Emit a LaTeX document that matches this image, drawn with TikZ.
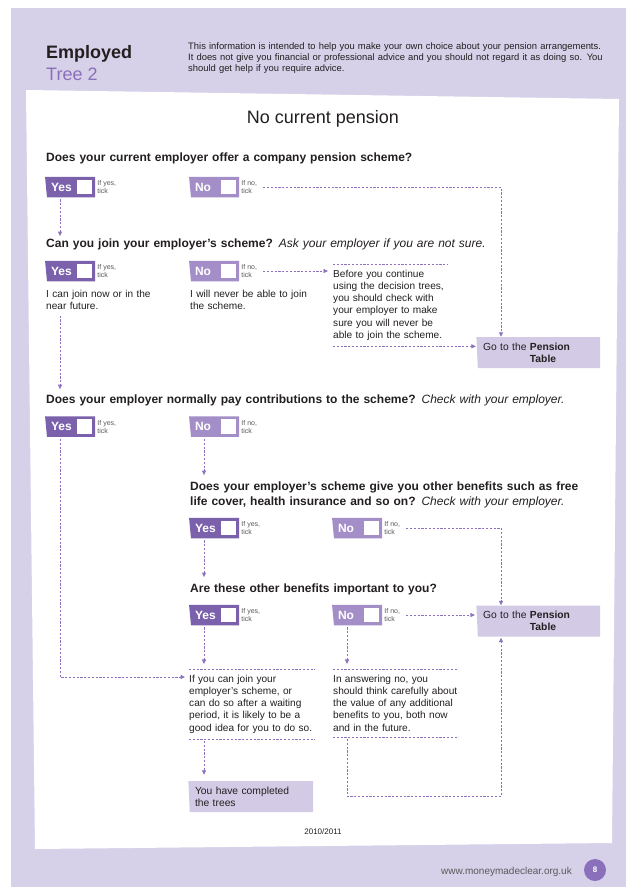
\documentclass[tikz,border=0pt]{standalone}
\usepackage{fontspec}
\setmainfont{Liberation Sans}
\usetikzlibrary{shapes.geometric, arrows.meta, positioning, calc}
\definecolor{page}{HTML}{D6D1E8}
\definecolor{yescol}{HTML}{7B61AC}
\definecolor{nocol}{HTML}{A48EC8}
\definecolor{flowcol}{HTML}{8B71BE}
\definecolor{gotocol}{HTML}{D3CBE6}
\definecolor{treecol}{HTML}{8A6FBB}
\definecolor{ink}{HTML}{231F20}
\definecolor{softink}{HTML}{58595B}
\newcommand{\sz}[2]{\fontsize{#1}{#2}\selectfont}

\begin{document}
\begin{tikzpicture}[x=1pt, y=-1pt,
    question/.style={anchor=base west, inner sep=0pt, text width=#1, align=left, font=\sz{12}{15}\bfseries, text=ink},
    question/.default=540pt,
    answer/.style={trapezium, trapezium left angle=97, trapezium right angle=90, trapezium stretches=true,
        minimum width=50pt, minimum height=20.5pt, inner xsep=3pt, text width=40pt, align=left,
        text=white, font=\sz{12}{14}\bfseries},
    tickbox/.style={fill=white, minimum size=14.5pt, inner sep=0pt},
    hint/.style={anchor=west, inner sep=0pt, align=left, font=\sz{7}{8}, text=softink},
    body/.style={anchor=base west, inner sep=0pt, text width=#1, align=left, font=\sz{10.1}{12.3}, text=ink},
    info/.style={body=#1, inner ysep=5.5pt},
    gotobox/.style={trapezium, trapezium left angle=93, trapezium right angle=90, trapezium stretches=true,
        fill=gotocol, minimum width=124pt, minimum height=31pt, inner xsep=3pt, text width=112pt,
        align=left, font=\sz{10.3}{12}, text=ink},
    rule/.style={draw=flowcol, line width=0.8pt, dash pattern=on 2.2pt off 1.6pt},
    flow/.style={rule, -{Triangle[length=4.5pt, width=4pt]}},
]

\useasboundingbox (0,0) rectangle (626,887);
% page and sheet
\fill[page] (11,8) rectangle (626,887);
\fill[white] (26,90) -- (619,99) -- (612,843) -- (35,849) -- cycle;

% header
\node[anchor=base west, inner sep=0pt, font=\sz{18}{20}\bfseries, text=ink] (emp) at (46,58) {Employed};
\node[anchor=base west, inner sep=0pt, font=\sz{18}{20}, text=treecol] (tree) at (46,80) {Tree 2};
\node[anchor=base west, inner sep=0pt, text width=430pt, align=left, font=\sz{9.4}{11}, text=ink] (disclaimer) at (188,49)
    {This information is intended to help you make your own choice about your pension arrangements.\\
     It does not give you financial or professional advice and you should not regard it as doing so. You\\
     should get help if you require advice.};
\node[anchor=base, inner sep=0pt, font=\sz{18}{20}, text=ink] (title) at (323,123) {No current pension};

% questions
\node[question] (q1) at (46,161) {Does your current employer offer a company pension scheme?};
\node[question] (q2) at (46,247) {Can you join your employer's scheme? {\mdseries\itshape Ask your employer if you are not sure.}};
\node[question] (q3) at (46,403) {Does your employer normally pay contributions to the scheme? {\mdseries\itshape Check with your employer.}};
\node[question=400pt] (q4) at (190,490) {Does your employer's scheme give you other benefits such as free\\
    life cover, health insurance and so on? {\mdseries\itshape Check with your employer.}};
\node[question=400pt] (q5) at (190,592) {Are these other benefits important to you?};

% yes / no boxes
\foreach \n/\x/\y in {y1/71/187, y2/71/271, y3/71/426.5, y4/215/528, y5/215/615} {
    \node[answer, fill=yescol] (\n) at (\x,\y) {Yes};
    \node[tickbox] (t\n) at ([xshift=-10.5pt]\n.east) {};
    \node[hint] (h\n) at ([xshift=2pt]\n.east) {If yes,\\tick};
}
\foreach \n/\x/\y in {n1/215/187, n2/215/271, n3/215/426.5, n4/358/528, n5/358/615} {
    \node[answer, fill=nocol] (\n) at (\x,\y) {No};
    \node[tickbox] (t\n) at ([xshift=-10.5pt]\n.east) {};
    \node[hint] (h\n) at ([xshift=2pt]\n.east) {If no,\\tick};
}

% notes
\node[body=130pt] (y2txt) at (46,297) {I can join now or in the\\near future.};
\node[body=130pt] (n2txt) at (190,297) {I will never be able to join\\the scheme.};
\node[info=114pt] (before) at (333,277) {Before you continue\\using the decision trees,\\you should check with\\your employer to make\\sure you will never be\\able to join the scheme.};
\node[info=126pt] (yesinfo) at (189,682) {If you can join your\\employer's scheme, or\\can do so after a waiting\\period, it is likely to be a\\good idea for you to do so.};
\node[info=125pt] (noinfo) at (333,682) {In answering no, you\\should think carefully about\\the value of any additional\\benefits to you, both now\\and in the future.};

% outcomes
\node[gotobox] (goto1) at (539,352.5) {Go to the \textbf{Pension}\\\phantom{Go to the }\textbf{Table}};
\node[gotobox] (goto2) at (539,621) {Go to the \textbf{Pension}\\\phantom{Go to the }\textbf{Table}};
\node[gotobox, minimum width=125pt, text width=113pt] (done) at (251.5,796.5) {You have completed\\the trees};
\coordinate (rail) at (501,0);

% rules round the notes
\foreach \t in {before, yesinfo, noinfo}
    \draw[rule] (\t.north west) -- (\t.north east);
\draw[rule] (yesinfo.south west) -- (yesinfo.south east);
\draw[rule] (noinfo.south west) -- (noinfo.south east);

% connectors
\draw[flow] ([xshift=6pt]hn1.east |- n1.east) -| (rail |- goto1.north);
\draw[flow, shorten <=2pt, shorten >=2pt] ([xshift=-11pt]y1.south) -- ([xshift=-11pt]y1.south |- q2.north);
\draw[flow, shorten >=5pt] ([xshift=6pt]hn2.east |- n2.east) -- (before.west |- n2.east);
\draw[flow, shorten >=1pt] (before.south west) -- (before.south west -| goto1.west);
\draw[flow, shorten <=6pt, shorten >=5pt] ([xshift=14pt]y2txt.south west) -- ([xshift=14pt]y2txt.south west |- q3.north);
\draw[flow, shorten <=2pt, shorten >=4pt] ([xshift=-11pt]y3.south) |- ([yshift=-8pt]yesinfo.north west);
\draw[flow, shorten <=2pt, shorten >=6pt] ([xshift=-11pt]n3.south) -- ([xshift=-11pt]n3.south |- q4.north);
\draw[flow] ([xshift=6pt]hn4.east |- n4.east) -| (rail |- goto2.north);
\draw[flow, shorten <=2pt, shorten >=6pt] ([xshift=-11pt]y4.south) -- ([xshift=-11pt]y4.south |- q5.north);
\draw[flow, shorten >=2pt] ([xshift=6pt]hn5.east |- n5.east) -- (goto2.west |- n5.east);
\draw[flow, shorten <=2pt, shorten >=5pt] ([xshift=-11pt]y5.south) -- ([xshift=-11pt]y5.south |- yesinfo.north);
\draw[flow, shorten <=2pt, shorten >=5pt] ([xshift=-11pt]n5.south) -- ([xshift=-11pt]n5.south |- noinfo.north);
\draw[flow, shorten <=2pt, shorten >=6pt] ([xshift=15pt]yesinfo.south west) -- ([xshift=15pt]yesinfo.south west |- done.north);
\draw[flow, shorten <=2pt, shorten >=1pt] ([xshift=14pt]noinfo.south west) |- (rail |- done.center) -- (rail |- goto2.south);

% footer
\node[anchor=base, inner sep=0pt, font=\sz{8}{10}, text=ink] (year) at (323,834) {2010/2011};
\node[anchor=base west, inner sep=0pt, font=\sz{10}{12}, text=softink] (url) at (441,874) {www.moneymadeclear.org.uk};
\node[circle, fill=treecol, minimum size=22pt, inner sep=0pt, text=white, font=\sz{8}{10}\bfseries] (pagenum) at (595,870) {8};

\end{tikzpicture}
\end{document}
